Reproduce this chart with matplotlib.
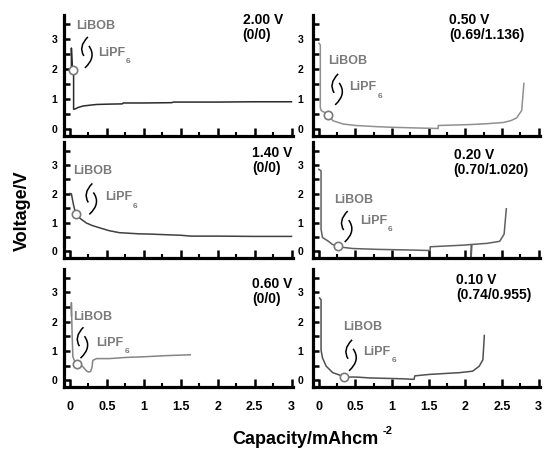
import matplotlib
matplotlib.use("Agg")
import matplotlib.pyplot as plt
import matplotlib.transforms as mtransforms
from matplotlib.path import Path
from matplotlib.patches import PathPatch
import numpy as np

plt.rcParams["font.family"] = ["Liberation Sans", "DejaVu Sans"]
plt.rcParams["font.weight"] = "bold"

# Data
cap_200 = [0.02, 0.02, 0.03, 0.04, 0.05, 0.05, 0.08, 0.11, 0.18, 0.25, 0.36, 0.5,
           0.71, 0.72, 1.0, 1.38, 1.40, 2.0, 2.5, 3.0]
volt_200 = [1.95, 2.70, 2.15, 2.00, 1.95, 0.66, 0.68, 0.72, 0.77, 0.79, 0.82, 0.83,
            0.84, 0.87, 0.87, 0.88, 0.90, 0.90, 0.91, 0.91]

cap_140 = [0.0, 0.02, 0.05, 0.08, 0.13, 0.22, 0.30, 0.40, 0.53, 0.67, 0.80, 0.93,
           1.1, 1.29, 1.5, 1.64, 2.0, 2.5, 3.0]
volt_140 = [2.01, 2.0, 1.6, 1.30, 1.16, 0.99, 0.90, 0.82, 0.72, 0.65, 0.63, 0.61,
            0.60, 0.58, 0.56, 0.53, 0.53, 0.52, 0.52]

cap_060 = [0.02, 0.02, 0.03, 0.04, 0.07, 0.10, 0.14, 0.18, 0.22, 0.25, 0.28, 0.30,
           0.31, 0.36, 0.53, 0.76, 0.98, 1.29, 1.63]
volt_060 = [2.2, 2.65, 1.55, 0.80, 0.62, 0.55, 0.55, 0.45, 0.33, 0.28, 0.30, 0.45,
            0.68, 0.74, 0.74, 0.78, 0.80, 0.84, 0.87]

cap_050 = [0.0, 0.02, 0.02, 0.03, 0.08, 0.13, 0.19, 0.33, 0.5, 0.8, 1.0, 1.3, 1.63,
           1.63, 2.06, 2.3, 2.52, 2.62, 2.7, 2.77, 2.8]
volt_050 = [2.86, 2.80, 0.73, 0.62, 0.55, 0.47, 0.28, 0.17, 0.12, 0.08, 0.06, 0.04,
            0.02, 0.12, 0.15, 0.18, 0.22, 0.28, 0.37, 0.62, 1.52]

cap_020 = [0.0, 0.03, 0.03, 0.05, 0.12, 0.18, 0.26, 0.46, 0.8, 1.2, 1.52, 1.52, 2.0,
           2.08, 2.08, 2.09, 2.3, 2.47, 2.53, 2.56]
volt_020 = [2.85, 2.80, 0.77, 0.48, 0.37, 0.25, 0.16, 0.10, 0.07, 0.05, 0.03, 0.16,
            0.22, 0.24, -0.2, 0.24, 0.28, 0.35, 0.60, 1.48]

cap_010 = [0.01, 0.03, 0.03, 0.05, 0.10, 0.19, 0.28, 0.35, 0.51, 0.69, 1.0, 1.15,
           1.30, 1.31, 1.51, 1.92, 2.10, 2.19, 2.24, 2.26]
volt_010 = [2.81, 2.75, 1.03, 0.76, 0.48, 0.26, 0.18, 0.11, 0.11, 0.08, 0.06, 0.05,
            0.03, 0.15, 0.20, 0.26, 0.31, 0.48, 0.70, 1.53]

potentials = ["2.00 V", "1.40 V", "0.60 V", "0.50 V", "0.20 V", "0.10 V"]
ratios = ["(0/0)", "(0/0)", "(0/0)", "(0.69/1.136)", "(0.70/1.020)", "(0.74/0.955)"]
circle_x = [0.04, 0.08, 0.10, 0.13, 0.26, 0.35]
circle_y = [1.98, 1.30, 0.55, 0.47, 0.17, 0.11]

x_ticks = [0, 0.5, 1, 1.5, 2, 2.5, 3]
x_ticklabels = ["0", "0.5", "1", "1.5", "2", "2.5", "3"]
y_ticks = [0, 1, 2, 3]

caps = [cap_200, cap_140, cap_060, cap_050, cap_020, cap_010]
volts = [volt_200, volt_140, volt_060, volt_050, volt_020, volt_010]

# layout
line_colors = ["#2a2a2a", "#404040", "#858585", "#909090", "#606060", "#505050"]
title_pos = [(0.78, 1.02), (0.82, 0.965), (0.82, 0.93), (0.60, 1.02), (0.62, 0.95), (0.63, 0.97)]
libob_pos = [(0.09, 3.43), (0.05, 2.80), (0.05, 2.17), (0.13, 2.28), (0.21, 1.80), (0.33, 1.82)]
lipf_pos = [(0.38, 2.53), (0.47, 1.88), (0.36, 1.27), (0.42, 1.39), (0.56, 1.07), (0.61, 0.96)]
bracket_pos = [(0.23, 2.57), (0.29, 1.84), (0.17, 1.30), (0.25, 1.34), (0.38, 0.88), (0.44, 0.87)]

W, H = 547, 455
cols_px = [(64, 293), (313, 540)]
rows_px = [(15, 136), (142, 258), (269, 387)]
gray = "#7a7a7a"

fig = plt.figure(figsize=(W / 100, H / 100), dpi=100)


def draw_bracket(ax, x, y):
    # a "(" and a lower ")" drawn in pixels around a data point
    verts = [(1, 15), (-9, 5), (-3, -4), (2, 6), (10, -5), (-2, -16)]
    codes = [Path.MOVETO, Path.CURVE3, Path.CURVE3, Path.MOVETO, Path.CURVE3, Path.CURVE3]
    trans = (mtransforms.Affine2D().scale(0.01) + fig.dpi_scale_trans
             + mtransforms.ScaledTranslation(x, y, ax.transData))
    ax.add_patch(PathPatch(Path(verts, codes), transform=trans, fill=False,
                           lw=1.1, edgecolor="black", clip_on=False))


for i in range(6):
    col, row = i // 3, i % 3
    x0, x1 = cols_px[col]
    top, bottom = rows_px[row]
    ax = fig.add_axes([x0 / W, 1 - bottom / H, (x1 - x0) / W, (bottom - top) / H])

    ax.plot(caps[i], volts[i], color=line_colors[i], lw=1.1)
    ax.plot(circle_x[i], circle_y[i], "o", ms=6, mfc="white", mec=gray, mew=1.2)

    ax.set_xlim(-0.08, 3.02)
    ax.set_ylim(-0.23, 3.8)

    for s in ["top", "right"]:
        ax.spines[s].set_visible(False)
    for s in ["left", "bottom"]:
        ax.spines[s].set_linewidth(2.3)

    ax.set_xticks(x_ticks)
    ax.set_xticks(np.arange(0.25, 3.0, 0.5), minor=True)
    ax.set_yticks(y_ticks)
    ax.set_yticks([0.5, 1.5, 2.5, 3.5], minor=True)
    if row == 2:
        ax.set_xticklabels(x_ticklabels)
    else:
        ax.set_xticklabels([])
    ax.tick_params(axis="x", which="major", direction="in", length=5.5, width=1.8,
                   labelsize=9, pad=10)
    ax.tick_params(axis="x", which="minor", direction="in", length=3, width=1.5)
    ax.tick_params(axis="y", which="both", direction="in", length=4.5, width=1.8,
                   labelsize=7.5, pad=5 if col == 0 else 7)

    tx, ty = title_pos[i]
    ax.text(tx, ty, potentials[i] + "\n" + ratios[i], transform=ax.transAxes,
            ha="left", va="top", fontsize=10, linespacing=1.1)

    ax.text(libob_pos[i][0], libob_pos[i][1], "LiBOB", color=gray, fontsize=9,
            ha="left", va="center")
    t = ax.text(lipf_pos[i][0], lipf_pos[i][1], "LiPF", color=gray, fontsize=9,
                ha="left", va="center")
    ax.annotate("6", xy=(1, 0), xycoords=t, xytext=(0.5, 0.5), textcoords="offset points",
                color=gray, fontsize=6, ha="left", va="top")
    draw_bracket(ax, *bracket_pos[i])

fig.text(22 / W, 1 - 211 / H, "Voltage/V", rotation=90, ha="center", va="center",
         fontsize=13)
xl = fig.text(232 / W, 1 - 440 / H, "Capacity/mAhcm", ha="left", va="center", fontsize=13)
fig.axes[0].annotate("-2", xy=(1, 1), xycoords=xl, xytext=(3, 4),
                     textcoords="offset points", ha="left", va="top", fontsize=8)

fig.savefig("out.png", dpi=100)
